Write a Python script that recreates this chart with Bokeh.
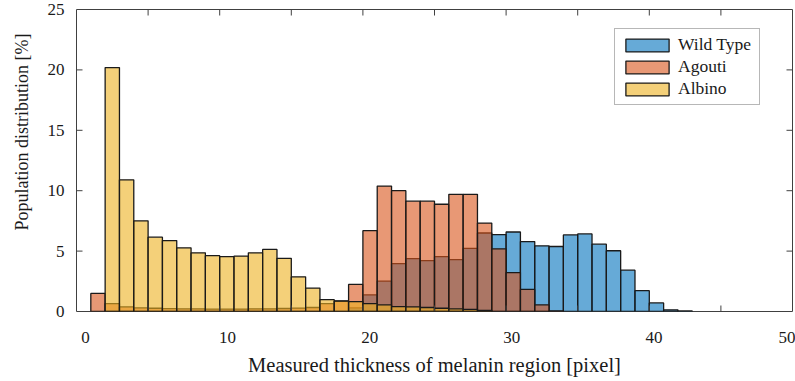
import math
from bokeh.plotting import figure
from bokeh.models import (LinearAxis, Range1d, FixedTicker, Legend, LegendItem,
                          ColumnDataSource, Title)
from bokeh.embed import file_html
from bokeh.resources import INLINE

# ---- data (histogram bins of width 1, percentage per bin) ----
bin_width = 1
series_names = ["Wild Type", "Agouti", "Albino"]

wild_type_start = 19
wild_type = [0.30, 1.37, 2.51, 3.96, 4.37, 4.21, 4.54, 4.29, 5.22, 6.50,
             6.37, 6.58, 5.79, 5.44, 5.38, 6.34, 6.42, 5.57, 5.03, 3.42,
             1.72, 0.71, 0.14, 0.04]

agouti_start = 1
agouti = [1.50, 0.66, 0.38, 0.30, 0.27, 0.24, 0.22, 0.22, 0.20, 0.20,
          0.20, 0.22, 0.22, 0.25, 0.28, 0.33, 0.66, 0.85, 2.24, 6.69,
          10.38, 10.00, 9.13, 9.13, 8.88, 9.70, 9.70, 7.32, 5.19, 3.22,
          1.83, 0.55, 0.05]

albino_start = 2
albino = [20.19, 10.90, 7.51, 6.15, 5.87, 5.27, 4.86, 4.62, 4.54, 4.59,
          4.86, 5.14, 4.40, 2.87, 1.94, 0.98, 0.87, 0.82, 0.66, 0.55,
          0.41, 0.38, 0.33, 0.27, 0.22, 0.18, 0.10]

x_ticks = [5, 10, 15, 20, 25, 30, 35, 40, 45]          # tick marks (inner)
x_label_ticks = [0, 10, 20, 30, 40, 49.4]                # labelled positions
x_label_text = {49.4: "50"}
y_ticks = [5, 10, 15, 20]
y_label_ticks = [0, 5, 10, 15, 20, 25]

colors = ["#0072BD", "#D95319", "#EDB120"]
FONT = "Liberation Serif"
AX = "#404040"
TXT = "#1a1a1a"

p = figure(width=795, height=381, x_range=Range1d(0, 50), y_range=Range1d(0, 25),
           output_backend="svg", toolbar_location=None,
           x_axis_location=None, y_axis_location=None,
           min_border_left=76, min_border_right=3, min_border_top=9,
           min_border_bottom=70)
p.xgrid.visible = False
p.ygrid.visible = False
p.outline_line_color = AX
p.outline_line_width = 1
p.background_fill_color = "white"
p.border_fill_color = "white"
# tick labels in the source figure sit slightly right of the tick marks
p.extra_x_ranges = {"lab": Range1d(-0.633, 49.754)}

renderers = []
for name, start, vals, col in zip(series_names,
                                  [wild_type_start, agouti_start, albino_start],
                                  [wild_type, agouti, albino], colors):
    left = [start + i * bin_width for i in range(len(vals))]
    right = [l + bin_width for l in left]
    src = ColumnDataSource(dict(left=left, right=right, top=vals,
                                bottom=[0] * len(vals)))
    r = p.quad(left="left", right="right", top="top", bottom="bottom", source=src,
               fill_color=col, fill_alpha=0.6, line_color=TXT,
               line_width=1.3)
    renderers.append((name, r))

# inward tick marks on all four sides
TL = 6
p.ray(x=x_ticks, y=[0] * len(x_ticks), length=TL, length_units="screen",
      angle=math.pi / 2, line_color=AX, line_width=1)
p.ray(x=x_ticks, y=[25] * len(x_ticks), length=TL, length_units="screen",
      angle=-math.pi / 2, line_color=AX, line_width=1)
p.ray(x=[0] * len(y_ticks), y=y_ticks, length=TL, length_units="screen",
      angle=0, line_color=AX, line_width=1)
p.ray(x=[50] * len(y_ticks), y=y_ticks, length=TL, length_units="screen",
      angle=math.pi, line_color=AX, line_width=1)

# bottom axis: labels + title
xa = LinearAxis(x_range_name="lab", ticker=FixedTicker(ticks=x_label_ticks),
                major_tick_in=0, major_tick_out=0, minor_tick_line_color=None,
                axis_line_color=None, major_tick_line_color=None)
xa.major_label_overrides = x_label_text
xa.major_label_text_font = FONT
xa.major_label_text_font_size = "17px"
xa.major_label_text_color = TXT
xa.major_label_standoff = 20
xa.axis_label = "Measured thickness of melanin region [pixel]"
xa.axis_label_text_font = FONT
xa.axis_label_text_font_style = "normal"
xa.axis_label_text_font_size = "20.5px"
xa.axis_label_text_color = TXT
xa.axis_label_standoff = 8
p.add_layout(xa, "below")

# left axis: labels only
ya = LinearAxis(ticker=FixedTicker(ticks=y_label_ticks),
                major_tick_in=0, major_tick_out=0, minor_tick_line_color=None,
                axis_line_color=None, major_tick_line_color=None)
ya.major_label_text_font = FONT
ya.major_label_text_font_size = "17px"
ya.major_label_text_color = TXT
ya.major_label_standoff = 12
p.add_layout(ya, "left")

ytitle = Title(text="Population distribution [%]", align="left", offset=81,
               vertical_align="top", standoff=22, text_font=FONT,
               text_font_size="18px", text_font_style="normal", text_color=TXT)
p.add_layout(ytitle, "left")

legend = Legend(items=[LegendItem(label=n, renderers=[r]) for n, r in renderers],
                location=(538, 206))
legend.glyph_width = 54
legend.glyph_height = 16
legend.label_text_font = FONT
legend.label_text_font_size = "17.5px"
legend.label_text_color = TXT
legend.label_height = 16
legend.label_width = 76
legend.label_standoff = 4
legend.padding = 5
legend.spacing = 1
legend.margin = 0
legend.border_line_color = "#707070"
legend.border_line_width = 1
legend.background_fill_color = "white"
legend.background_fill_alpha = 1
p.add_layout(legend)

open("out.html", "w").write(file_html(p, INLINE))
